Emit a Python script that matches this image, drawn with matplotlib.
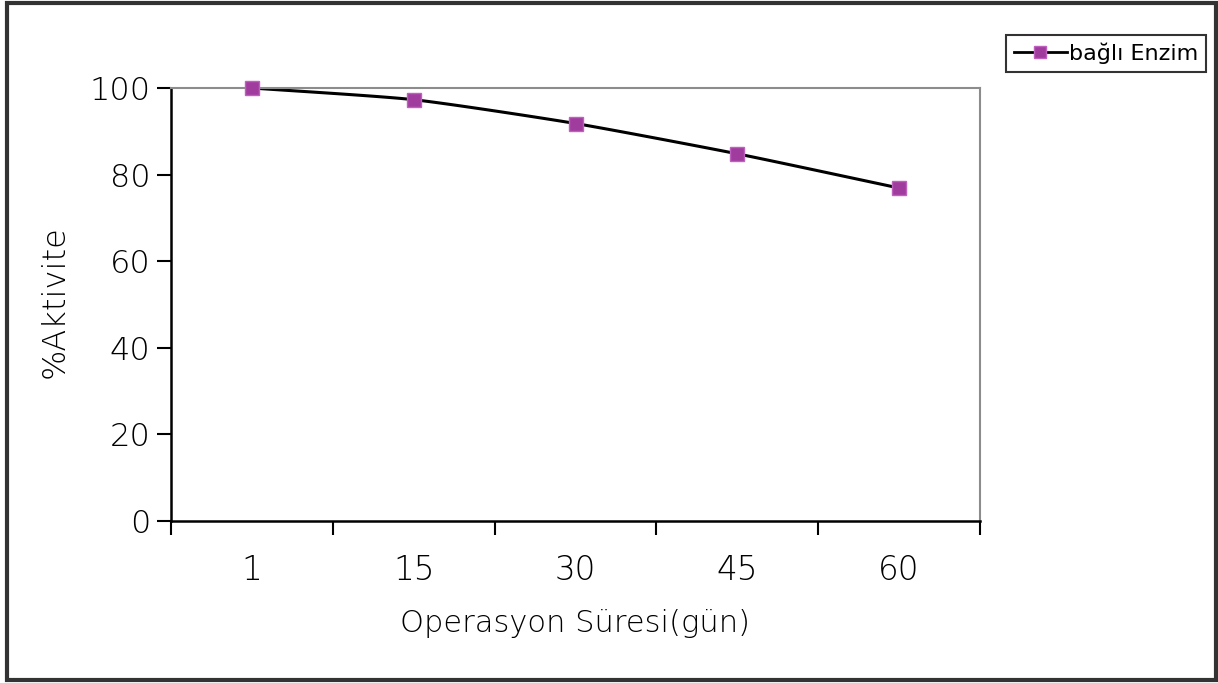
import numpy as np
import matplotlib
matplotlib.use("Agg")
import matplotlib.pyplot as plt
from matplotlib.patches import Rectangle
from matplotlib.lines import Line2D

# Data
gunler = ["1", "15", "30", "45", "60"]
aktivite = [100.0, 97.3, 91.8, 84.8, 76.9]
seri_adi = "bağlı Enzim"

plt.rcParams["font.family"] = ["DejaVu Sans"]

fig = plt.figure(figsize=(12.18, 6.83), dpi=100)
ax = fig.add_axes([171 / 1218, 1 - 521 / 683, (980 - 171) / 1218, (521 - 88) / 683])

x = np.arange(len(gunler), dtype=float)
y = np.array(aktivite)

# Smoothed line: cubic Hermite through the data points with softened tangents
def smooth_line(px, py, scale=0.6, n=30):
    P = np.column_stack([px, py])
    m = np.zeros_like(P)
    m[1:-1] = (P[2:] - P[:-2]) / 2
    m[0] = P[1] - P[0]
    m[-1] = P[-1] - P[-2]
    m *= scale
    t = np.linspace(0, 1, n)[:, None]
    h00 = 2 * t**3 - 3 * t**2 + 1
    h10 = t**3 - 2 * t**2 + t
    h01 = -2 * t**3 + 3 * t**2
    h11 = t**3 - t**2
    segs = [h00 * P[i] + h10 * m[i] + h01 * P[i + 1] + h11 * m[i + 1]
            for i in range(len(P) - 1)]
    c = np.vstack(segs)
    return c[:, 0], c[:, 1]

sx, sy = smooth_line(x, y)
ax.plot(sx, sy, color="black", lw=2.2, zorder=2)
ax.plot(x, y, ls="none", marker="s", ms=9.5, mfc="#A03C9E", mec="#C060BE", mew=1.0,
        zorder=3, clip_on=False)

ax.set_xlim(-0.5, len(gunler) - 0.5)
ax.set_ylim(0, 100)

# Category boundaries as major ticks, labels at category centers
ax.set_xticks(np.arange(-0.5, len(gunler), 1.0))
ax.set_xticklabels([])
ax.set_xticks(x, minor=True)
ax.set_xticklabels(gunler, minor=True)
ax.tick_params(axis="x", which="major", direction="out", length=10, width=1.5, color="black")
ax.tick_params(axis="x", which="minor", length=0, pad=24, labelsize=23.5)

ax.set_yticks(np.arange(0, 101, 20))
ax.tick_params(axis="y", direction="out", length=10, width=1.5, color="black", labelsize=23, pad=5)

for t in ax.get_xticklabels(minor=True) + ax.get_yticklabels():
    t.set_fontweight("light")

ax.spines["left"].set_color("black")
ax.spines["left"].set_linewidth(1.8)
ax.spines["bottom"].set_color("black")
ax.spines["bottom"].set_linewidth(1.8)
ax.spines["top"].set_color("#8c8c8c")
ax.spines["top"].set_linewidth(1.5)
ax.spines["right"].set_color("#8c8c8c")
ax.spines["right"].set_linewidth(1.5)

fig.text(55 / 1218, 1 - 302 / 683, "%Aktivite", rotation=90, ha="center", va="center",
         fontsize=23, fontweight="light")
fig.text(575 / 1218, 1 - 623 / 683, "Operasyon Süresi(gün)", ha="center", va="center",
         fontsize=22, fontweight="light")

# Legend box
handle = Line2D([], [], color="black", lw=2, marker="s", ms=8, mfc="#A03C9E", mec="#C060BE")
leg = fig.legend([handle], [seri_adi], loc="upper left",
                 bbox_to_anchor=(1006 / 1218, 1 - 35 / 683), frameon=True, fancybox=False,
                 fontsize=16, handlelength=2.4, handletextpad=0.1, borderpad=0.35,
                 borderaxespad=0)
leg.get_frame().set_edgecolor("black")
leg.get_frame().set_linewidth(1.5)

# Outer chart border
fig.patches.append(Rectangle((7 / 1218, 3 / 683), (1216 - 7) / 1218, (680 - 3) / 683,
                             transform=fig.transFigure, fill=False, ec="#333333", lw=3))

fig.savefig("out.png", dpi=100)
